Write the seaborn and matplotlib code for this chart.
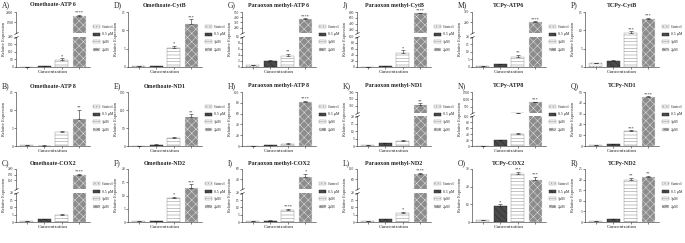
import matplotlib
matplotlib.use('Agg')
import matplotlib.pyplot as plt
from matplotlib.patches import Patch
import seaborn as sns
import numpy as np

# ---------------- data ----------------
conc = ['Control', '0.5 µM', '1 µM', '2 µM']
legend_labels = ['Control', '0.5 µM', '1µM', '2µM']

omethoate_atp6 = [1, 5, 45, 1800]
omethoate_atp6_err = [0.5, 1, 12, 80]
omethoate_atp6_sig = ['', '', '*', '****']

omethoate_cytb = [0.3, 0.3, 5.3, 11.8]
omethoate_cytb_err = [0.05, 0.1, 0.4, 1.2]
omethoate_cytb_sig = ['', '', '*', '***']

paraoxon_atp6 = [0.5, 2.0, 3.5, 370]
paraoxon_atp6_err = [0.1, 0.2, 0.8, 10]
paraoxon_atp6_sig = ['', '', '**', '****']

paraoxon_cytb = [1, 2, 45, 750]
paraoxon_cytb_err = [0.2, 0.5, 10, 15]
paraoxon_cytb_sig = ['', '', '*', '****']

tcpy_atp6 = [0.8, 2, 6.5, 200]
tcpy_atp6_err = [0.1, 0.3, 1.5, 10]
tcpy_atp6_sig = ['', '', '**', '****']

tcpy_cytb = [1.0, 1.6, 9.4, 13.0]
tcpy_cytb_err = [0.1, 0.2, 0.3, 0.4]
tcpy_cytb_sig = ['', '', '***', '***']

omethoate_atp8 = [0.2, 0.1, 3.8, 7.6]
omethoate_atp8_err = [0.05, 0.05, 0.3, 2.5]
omethoate_atp8_sig = ['', '', '', '**']

omethoate_nd1 = [1, 4, 22, 80]
omethoate_nd1_err = [0.3, 0.8, 3, 8]
omethoate_nd1_sig = ['', '', '', '**']

paraoxon_atp8 = [0.5, 1.5, 3.5, 82]
paraoxon_atp8_err = [0.2, 0.3, 1.5, 2]
paraoxon_atp8_sig = ['', '', '', '****']

paraoxon_nd1 = [0.8, 1.8, 3.5, 330]
paraoxon_nd1_err = [0.1, 0.2, 0.4, 40]
paraoxon_nd1_sig = ['', '', '', '**']

tcpy_atp8 = [1, 20, 40, 800]
tcpy_atp8_err = [0.2, 1, 3, 40]
tcpy_atp8_sig = ['', '', '', '***']

tcpy_nd1 = [1, 1.5, 14, 45]
tcpy_nd1_err = [0.2, 0.2, 0.5, 1]
tcpy_nd1_sig = ['', '', '***', '****']

omethoate_cox2 = [0.5, 1.8, 4.5, 150]
omethoate_cox2_err = [0.1, 0.3, 0.8, 8]
omethoate_cox2_sig = ['', '', '', '****']

omethoate_nd2 = [0.2, 0.2, 9, 13]
omethoate_nd2_err = [0.05, 0.05, 0.6, 1.2]
omethoate_nd2_sig = ['', '', '*', '***']

paraoxon_cox2 = [0.5, 1, 8, 45]
paraoxon_cox2_err = [0.1, 0.2, 1, 6]
paraoxon_cox2_sig = ['', '', '****', '*']

paraoxon_nd2 = [0.5, 2, 6, 80]
paraoxon_nd2_err = [0.1, 0.3, 1, 4]
paraoxon_nd2_sig = ['', '', '*', '****']

tcpy_cox2 = [1, 9, 27, 24]
tcpy_cox2_err = [0.2, 1, 1.5, 1.5]
tcpy_cox2_sig = ['', '*', '***', '***']

tcpy_nd2 = [0.3, 1.2, 20, 21]
tcpy_nd2_err = [0.1, 0.2, 0.8, 0.8]
tcpy_nd2_sig = ['', '', '**', '**']

# ---------------- layout / style ----------------
sns.set_style('ticks')
plt.rcParams['font.family'] = ['Liberation Serif', 'DejaVu Sans']
plt.rcParams['hatch.linewidth'] = 0.35

W, H = 685, 243
fig = plt.figure(figsize=(6.85, 2.43), dpi=100)

col_off = [0, 112, 226, 341, 456, 569]
row_box = [(12, 67), (92, 146), (169, 222)]
title_y = [5, 86, 163]

face = ['#eeeeee', '#4a4a4a', '#ffffff', '#8c8c8c']
edge = ['#9a9a9a', '#2a2a2a', '#8a8a8a', '#e4e4e4']
hatches = ['.....', '\\\\\\\\\\', '-----', 'xxxx']


def fbox(x, y, w, h):
    return [x / W, 1 - (y + h) / H, w / W, h / H]


def draw_bars(ax, means, err):
    sns.barplot(x=conc, y=means, hue=conc, palette=face, legend=False, ax=ax,
                width=0.75, saturation=1, errorbar=None)
    for p, ec, h in zip(ax.patches, edge, hatches):
        p.set_edgecolor(ec)
        p.set_hatch(h)
        p.set_linewidth(0.3)
    xs = [p.get_x() + p.get_width() / 2 for p in ax.patches]
    ax.errorbar(xs, means, yerr=[np.zeros(len(err)), err], fmt='none', ecolor='#222222',
                elinewidth=0.4, capsize=1.2, capthick=0.4, zorder=3)
    return xs


def style(ax, lim, ticks, bottom=True):
    ax.set_ylim(lim)
    ax.set_yticks(ticks)
    ax.set_xlim(-0.6, 3.6)
    ax.tick_params(axis='y', labelsize=2.6, length=1.3, width=0.4, pad=0.6)
    ax.tick_params(axis='x', labelbottom=False, length=1.5 if bottom else 0, width=0.4)
    for s in ['top', 'right']:
        ax.spines[s].set_visible(False)
    ax.spines['left'].set_linewidth(0.4)
    ax.spines['bottom'].set_linewidth(0.4)
    ax.spines['bottom'].set_visible(bottom)
    ax.set_xlabel('')
    ax.set_ylabel('')


def stars(ax, xs, means, err, sig):
    for x, m, e, s in zip(xs, means, err, sig):
        if s:
            ax.annotate(s, (x, m + e), xytext=(0, 0.2), textcoords='offset points',
                        ha='center', va='bottom', fontsize=3.2)


panels = [
    # row 0
    ('A)', 'Omethoate-ATP 6', omethoate_atp6, omethoate_atp6_err, omethoate_atp6_sig,
     [((0, 200), [0, 50, 100, 150, 200]), ((1000, 2000), [1500, 2000])]),
    ('D)', 'Omethoate-CytB', omethoate_cytb, omethoate_cytb_err, omethoate_cytb_sig,
     [((0, 15), [0, 5, 10, 15])]),
    ('G)', 'Paraoxon methyl-ATP 6', paraoxon_atp6, paraoxon_atp6_err, paraoxon_atp6_sig,
     [((0, 10), [0, 2, 4, 6, 8, 10]), ((100, 500), [200, 300, 400, 500])]),
    ('J)', 'Paraoxon methyl-CytB', paraoxon_cytb, paraoxon_cytb_err, paraoxon_cytb_sig,
     [((0, 100), [0, 20, 40, 60, 80, 100]), ((100, 800), [200, 400, 600, 800])]),
    ('M)', 'TCPy-ATP6', tcpy_atp6, tcpy_atp6_err, tcpy_atp6_sig,
     [((0, 20), [0, 5, 10, 15, 20]), ((100, 300), [200, 300])]),
    ('P)', 'TCPy-CytB', tcpy_cytb, tcpy_cytb_err, tcpy_cytb_sig,
     [((0, 15), [0, 5, 10, 15])]),
    # row 1
    ('B)', 'Omethoate-ATP 8', omethoate_atp8, omethoate_atp8_err, omethoate_atp8_sig,
     [((0, 15), [0, 5, 10, 15])]),
    ('E)', 'Omethoate-ND1', omethoate_nd1, omethoate_nd1_err, omethoate_nd1_sig,
     [((0, 150), [0, 50, 100, 150])]),
    ('H)', 'Paraoxon methyl-ATP 8', paraoxon_atp8, paraoxon_atp8_err, paraoxon_atp8_sig,
     [((0, 100), [0, 20, 40, 60, 80, 100])]),
    ('K)', 'Paraoxon methyl-ND1', paraoxon_nd1, paraoxon_nd1_err, paraoxon_nd1_sig,
     [((0, 20), [0, 5, 10, 15, 20]), ((100, 700), [300, 500, 700])]),
    ('N)', 'TCPy-ATP8', tcpy_atp8, tcpy_atp8_err, tcpy_atp8_sig,
     [((0, 100), [0, 20, 40, 60, 80, 100]), ((100, 1500), [500, 1000, 1500])]),
    ('Q)', 'TCPy-ND1', tcpy_nd1, tcpy_nd1_err, tcpy_nd1_sig,
     [((0, 50), [0, 10, 20, 30, 40, 50])]),
    # row 2
    ('C)', 'Omethoate-COX2', omethoate_cox2, omethoate_cox2_err, omethoate_cox2_sig,
     [((0, 20), [0, 5, 10, 15, 20]), ((20, 200), [100, 150, 200])]),
    ('F)', 'Omethoate-ND2', omethoate_nd2, omethoate_nd2_err, omethoate_nd2_sig,
     [((0, 20), [0, 5, 10, 15, 20])]),
    ('I)', 'Paraoxon methyl-COX2', paraoxon_cox2, paraoxon_cox2_err, paraoxon_cox2_sig,
     [((0, 20), [0, 5, 10, 15, 20]), ((20, 60), [40, 60])]),
    ('L)', 'Paraoxon methyl-ND2', paraoxon_nd2, paraoxon_nd2_err, paraoxon_nd2_sig,
     [((0, 20), [0, 5, 10, 15, 20]), ((20, 100), [60, 100])]),
    ('O)', 'TCPy-COX2', tcpy_cox2, tcpy_cox2_err, tcpy_cox2_sig,
     [((0, 30), [0, 10, 20, 30])]),
    ('R)', 'TCPy-ND2', tcpy_nd2, tcpy_nd2_err, tcpy_nd2_sig,
     [((0, 25), [0, 5, 10, 15, 20, 25])]),
]

legend_handles = [Patch(facecolor=f, edgecolor=e, hatch=h, linewidth=0.3)
                  for f, e, h in zip(face, edge, hatches)]

ax_w = 74
for i, (letter, title, means, err, sig, scales) in enumerate(panels):
    r, c = divmod(i, 6)
    off = col_off[c]
    top, bot = row_box[r]
    ph = bot - top
    x0 = off + 16
    if len(scales) == 1:
        ax = fig.add_axes(fbox(x0, top, ax_w, ph))
        xs = draw_bars(ax, means, err)
        style(ax, *scales[0])
        stars(ax, xs, means, err, sig)
    else:
        h_up = ph * 0.38
        h_lo = ph * 0.55
        ax_up = fig.add_axes(fbox(x0, top, ax_w, h_up))
        ax_lo = fig.add_axes(fbox(x0, bot - h_lo, ax_w, h_lo))
        xs = draw_bars(ax_lo, means, err)
        draw_bars(ax_up, means, err)
        style(ax_lo, *scales[0])
        style(ax_up, *scales[1], bottom=False)
        lo_hi = scales[0][0][1]
        for x, m, e, s in zip(xs, means, err, sig):
            if s:
                target = ax_up if m + e > lo_hi else ax_lo
                target.annotate(s, (x, m + e), xytext=(0, 0.2), textcoords='offset points',
                                ha='center', va='bottom', fontsize=3.2)
        mk = [(-1, -0.5), (1, 0.5)]
        ax_lo.plot([0], [1], transform=ax_lo.transAxes, marker=mk, markersize=3,
                   color='k', mew=0.4, clip_on=False)
        ax_up.plot([0], [0], transform=ax_up.transAxes, marker=mk, markersize=3,
                   color='k', mew=0.4, clip_on=False)
    # texts
    fig.text((off + 2) / W, 1 - title_y[r] / H, letter, fontsize=5.5,
             ha='left', va='center')
    fig.text((x0 + ax_w / 2) / W, 1 - title_y[r] / H, title, fontsize=4.3,
             fontweight='bold', ha='center', va='center')
    fig.text((off + 4) / W, 1 - (top + ph / 2) / H, 'Relative Expression',
             fontsize=3.1, rotation=90, ha='center', va='center')
    fig.text((x0 + ax_w / 2) / W, 1 - (bot + 5) / H, 'Concentration', fontsize=3.8,
             ha='center', va='center')
    fig.legend(legend_handles, legend_labels, loc='upper left',
               bbox_to_anchor=((off + 93) / W, 1 - (top + 13) / H),
               fontsize=2.8, frameon=False, handlelength=1.9, handleheight=0.8,
               labelspacing=0.9, handletextpad=0.4, borderaxespad=0, borderpad=0)

fig.savefig('out.png', dpi=100)
